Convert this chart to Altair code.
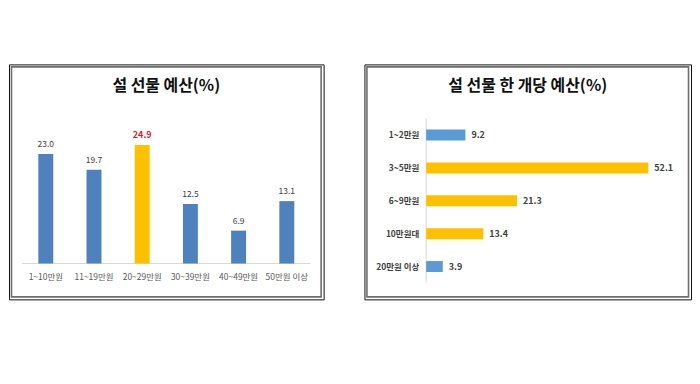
import altair as alt
import pandas as pd

left_title = "설 선물 예산(%)"
left_cats = ["1~10만원", "11~19만원", "20~29만원", "30~39만원", "40~49만원", "50만원 이상"]
left_vals = [23.0, 19.7, 24.9, 12.5, 6.9, 13.1]
left_highlight = ["20~29만원"]

right_title = "설 선물 한 개당 예산(%)"
right_cats = ["1~2만원", "3~5만원", "6~9만원", "10만원대", "20만원 이상"]
right_vals = [9.2, 52.1, 21.3, 13.4, 3.9]
right_highlight = ["3~5만원", "6~9만원", "10만원대"]

FONT = "Noto Sans CJK KR"
BLUE_L = "#4F81BD"
BLUE_R = "#5B9BD5"
GOLD = "#FFC000"

# ---------- left panel ----------
LW, LH = 316, 236
ldf = pd.DataFrame({"cat": left_cats, "val": left_vals})
lx = alt.X("cat:N", sort=left_cats, axis=None,
           scale=alt.Scale(range=[13, 303], paddingInner=0.69, paddingOuter=0.34))
ly = alt.Y("val:Q", axis=None, scale=alt.Scale(domain=[0, 41.8], range=[200, 0]))
lhl = alt.FieldOneOfPredicate(field="cat", oneOf=left_highlight)

lbars = alt.Chart(ldf).mark_bar().encode(
    x=lx, y=ly,
    color=alt.condition(lhl, alt.value(GOLD), alt.value(BLUE_L)),
)
lvals = alt.Chart(ldf).transform_filter(~lhl).mark_text(
    font=FONT, fontSize=8.5, color="#404040", baseline="bottom", dy=-5
).encode(x=lx, y=ly, text=alt.Text("val:Q", format=".1f"))
lvals_hl = alt.Chart(ldf).transform_filter(lhl).mark_text(
    font=FONT, fontSize=9, fontWeight="bold", color="#E8171F", baseline="bottom", dy=-5
).encode(x=lx, y=ly, text=alt.Text("val:Q", format=".1f"))
lcats = alt.Chart(ldf).mark_text(font=FONT, fontSize=8.5, color="#595959", baseline="middle").encode(
    x=lx, y=alt.value(214), text="cat:N",
)
lbase = alt.Chart(alt.Data(values=[{}])).mark_rule(color="#D9D9D9", strokeWidth=1).encode(
    x=alt.value(13), x2=alt.value(303), y=alt.value(200)
)
ltitle = alt.Chart(alt.Data(values=[{}])).mark_text(
    font=FONT, fontSize=16, fontWeight=600, color="#111111", baseline="middle"
).encode(x=alt.value(LW / 2), y=alt.value(22), text=alt.value(left_title))
lframe = alt.Chart(alt.Data(values=[{}])).mark_rect(
    fill=None, fillOpacity=0, stroke="#6e6e6e", strokeWidth=1.6
).encode(x=alt.value(2.5), x2=alt.value(LW - 2.5), y=alt.value(2.5), y2=alt.value(LH - 2.5))

left = alt.layer(lbase, lbars, lvals, lvals_hl, lcats, ltitle, lframe).properties(width=LW, height=LH)

# ---------- right panel ----------
RW, RH = 328, 236
rdf = pd.DataFrame({"cat": right_cats, "val": right_vals})
ry = alt.Y("cat:N", sort=right_cats, axis=None,
           scale=alt.Scale(range=[54.5, 219.5], paddingInner=0.667, paddingOuter=0.333))
rx = alt.X("val:Q", axis=None, scale=alt.Scale(domain=[0, 62.1], range=[62, RW]))
rhl = alt.FieldOneOfPredicate(field="cat", oneOf=right_highlight)

rbars = alt.Chart(rdf).mark_bar().encode(
    y=ry, x=rx,
    color=alt.condition(rhl, alt.value(GOLD), alt.value(BLUE_R)),
)
rvals = alt.Chart(rdf).mark_text(font=FONT, fontSize=9, fontWeight="bold", color="#404040",
                                 align="left", baseline="middle", dx=6).encode(
    y=ry, x=rx, text=alt.Text("val:Q", format=".1f"),
)
rcats = alt.Chart(rdf).mark_text(font=FONT, fontSize=8.5, fontWeight="bold", color="#404040",
                                 align="right", baseline="middle").encode(
    y=ry, x=alt.value(55), text="cat:N",
)
raxis = alt.Chart(alt.Data(values=[{}])).mark_rule(color="#D9D9D9", strokeWidth=1).encode(
    x=alt.value(62), y=alt.value(54), y2=alt.value(219)
)
rtitle = alt.Chart(alt.Data(values=[{}])).mark_text(
    font=FONT, fontSize=16, fontWeight=600, color="#111111", baseline="middle"
).encode(x=alt.value(RW / 2), y=alt.value(22), text=alt.value(right_title))
rframe = alt.Chart(alt.Data(values=[{}])).mark_rect(
    fill=None, fillOpacity=0, stroke="#6e6e6e", strokeWidth=1.6
).encode(x=alt.value(2.5), x2=alt.value(RW - 2.5), y=alt.value(2.5), y2=alt.value(RH - 2.5))

right = alt.layer(raxis, rbars, rvals, rcats, rtitle, rframe).properties(width=RW, height=RH)

chart = alt.hconcat(left, right, spacing=39).properties(
    padding={"left": 0, "top": 55, "right": 0, "bottom": 0},
    background="white",
).configure_view(stroke="#111111", strokeWidth=1)

chart.save("out.html", embed_options={"renderer": "svg", "actions": False})
